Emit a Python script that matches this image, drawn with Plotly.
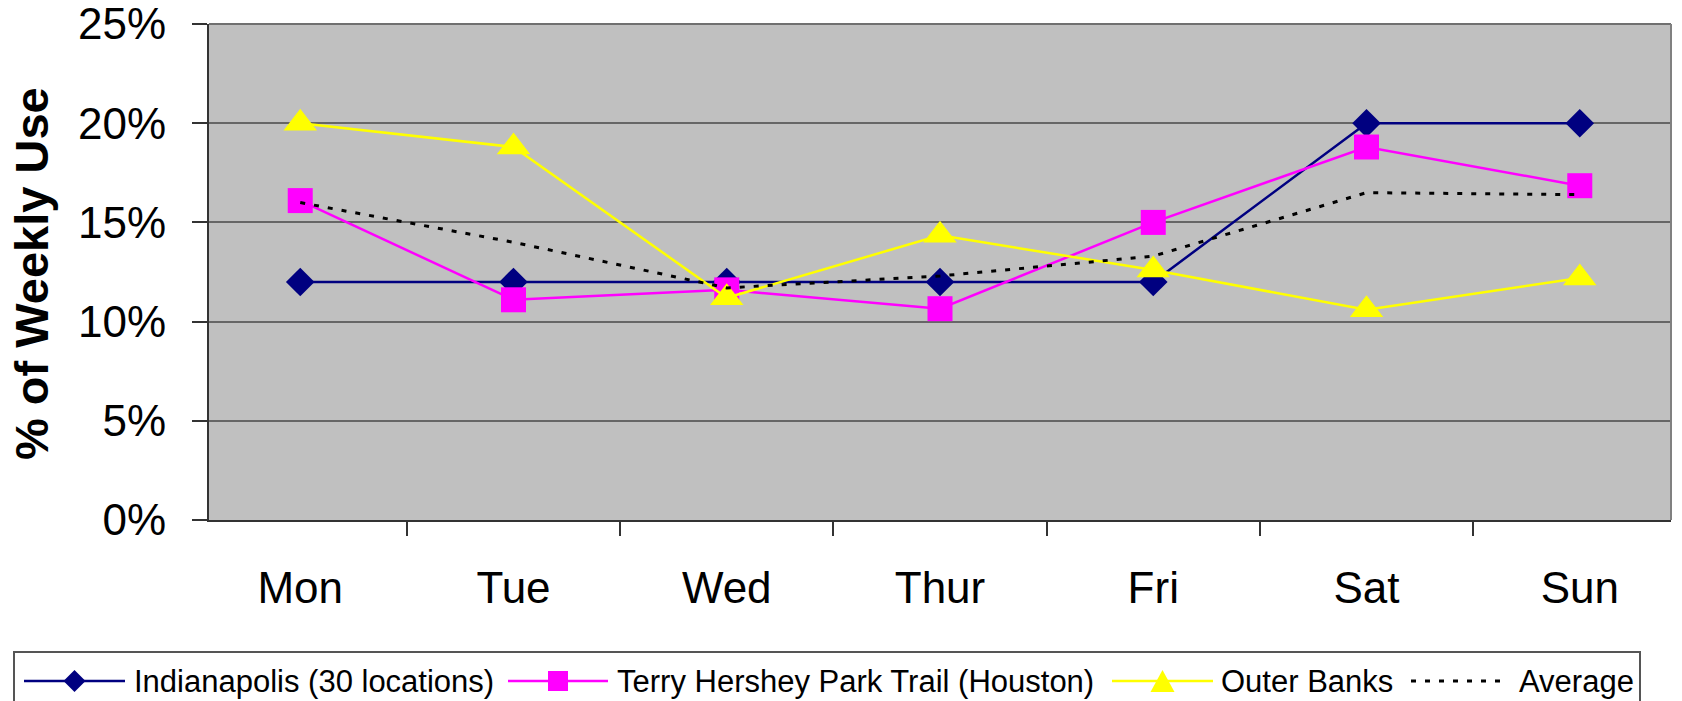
import plotly.graph_objects as go

# --- DATA ---
days = ["Mon", "Tue", "Wed", "Thur", "Fri", "Sat", "Sun"]
indianapolis = [12.0, 12.0, 12.0, 12.0, 12.0, 20.0, 20.0]
terry_hershey = [16.1, 11.1, 11.6, 10.65, 15.0, 18.8, 16.85]
outer_banks = [20.0, 18.8, 11.2, 14.35, 12.6, 10.6, 12.2]
average = [16.0, 14.0, 11.7, 12.3, 13.3, 16.5, 16.4]

names = ["Indianapolis (30 locations)", "Terry Hershey Park Trail (Houston)", "Outer Banks", "Average"]
colors = ["#000080", "#FF00FF", "#FFFF00", "#000000"]
symbols = ["diamond", "square", "triangle-up", None]
y_ticks = [0, 5, 10, 15, 20, 25]
y_labels = ["0%", "5%", "10%", "15%", "20%", "25%"]

FONT = "Liberation Sans, Arial, sans-serif"
W, H = 1682, 701
L, R, T, B = 209, 1671, 24, 520  # plot area in px


def fx(px):
    return (px - L) / (R - L)


def fy(py):
    return (B - py) / (B - T)


fig = go.Figure()
series = [indianapolis, terry_hershey, outer_banks, average]
sizes = [22, 25, 29, 0]
for name, vals, col, sym, sz in zip(names, series, colors, symbols, sizes):
    if sym is None:
        fig.add_trace(go.Scatter(x=days, y=vals, name=name, mode="lines",
                                 line=dict(color=col, width=3, dash="5px,9px")))
    else:
        fig.add_trace(go.Scatter(x=days, y=vals, name=name, mode="lines+markers",
                                 line=dict(color=col, width=2.5),
                                 marker=dict(symbol=sym, size=sz, color=col, line=dict(width=0))))

fig.update_layout(
    width=W, height=H,
    margin=dict(l=L, r=W - R, t=T, b=H - B),
    paper_bgcolor="white",
    plot_bgcolor="#C0C0C0",
    font=dict(family=FONT, color="black"),
    showlegend=False,
)
fig.update_xaxes(
    type="category", tickson="boundaries", ticks="outside", ticklen=14, tickwidth=1.5,
    tickcolor="#333", showgrid=False, showline=True, linecolor="#333", linewidth=2,
    tickfont=dict(size=44), ticklabelstandoff=28, automargin=False,
)
fig.update_yaxes(
    range=[0, 25.001], tickmode="array", tickvals=y_ticks, ticktext=y_labels,
    ticks="outside", ticklen=15, tickwidth=1.5, tickcolor="#333",
    showgrid=True, gridcolor="#666666", gridwidth=2,
    zeroline=False, showline=True, linecolor="#333", linewidth=2,
    tickfont=dict(size=44), ticklabelstandoff=17, ticklabeloverflow="allow", automargin=False,
)

shapes = [
    dict(type="line", xref="paper", yref="paper", x0=0, x1=1, y0=1, y1=1, line=dict(color="#707070", width=2)),
    dict(type="line", xref="paper", yref="paper", x0=1, x1=1, y0=0, y1=1, line=dict(color="#808080", width=2)),
]
annotations = [
    dict(text="<b>% of Weekly Use</b>", x=fx(31), y=fy(274), xref="paper", yref="paper",
         xanchor="center", yanchor="middle", textangle=-90, showarrow=False, font=dict(size=47)),
]

# --- LEGEND (drawn by hand, Excel style) ---
leg_y = 681
shapes.append(dict(type="rect", xref="paper", yref="paper", x0=fx(14), x1=fx(1640), y0=fy(730), y1=fy(652),
                   line=dict(color="#555", width=2), fillcolor="white", layer="below"))
line_starts = [24, 508, 1112, 1411]
line_ends = [125, 608, 1213, 1503]
text_starts = [133, 616, 1220, 1518]
for i, name in enumerate(names):
    x0, x1 = line_starts[i], line_ends[i]
    ln = dict(color=colors[i], width=2.5)
    if symbols[i] is None:
        ln = dict(color=colors[i], width=3, dash="5px,9px")
    shapes.append(dict(type="line", xref="paper", yref="paper", x0=fx(x0), x1=fx(x1),
                       y0=fy(leg_y), y1=fy(leg_y), line=ln))
    cx = (x0 + x1) / 2
    if symbols[i] == "diamond":
        p = f"M{fx(cx - 11)},{fy(leg_y)} L{fx(cx)},{fy(leg_y - 11)} L{fx(cx + 11)},{fy(leg_y)} L{fx(cx)},{fy(leg_y + 11)} Z"
    elif symbols[i] == "square":
        p = f"M{fx(cx - 10)},{fy(leg_y - 10)} L{fx(cx + 10)},{fy(leg_y - 10)} L{fx(cx + 10)},{fy(leg_y + 10)} L{fx(cx - 10)},{fy(leg_y + 10)} Z"
    elif symbols[i] == "triangle-up":
        p = f"M{fx(cx - 12)},{fy(leg_y + 11)} L{fx(cx + 12)},{fy(leg_y + 11)} L{fx(cx)},{fy(leg_y - 11)} Z"
    else:
        p = None
    if p:
        shapes.append(dict(type="path", xref="paper", yref="paper", path=p,
                           fillcolor=colors[i], line=dict(width=0)))
    annotations.append(dict(text=name, x=fx(text_starts[i]), y=fy(leg_y), xref="paper", yref="paper",
                            xanchor="left", yanchor="middle", showarrow=False,
                            font=dict(size=31), borderpad=0))

fig.update_layout(shapes=shapes, annotations=annotations)

# drop the browser's default 8px body margin so the figure sits at the page corner
fig.write_html("out.html", config={"displayModeBar": False},
               post_script="document.body.style.margin='0';document.body.style.overflow='hidden';")
